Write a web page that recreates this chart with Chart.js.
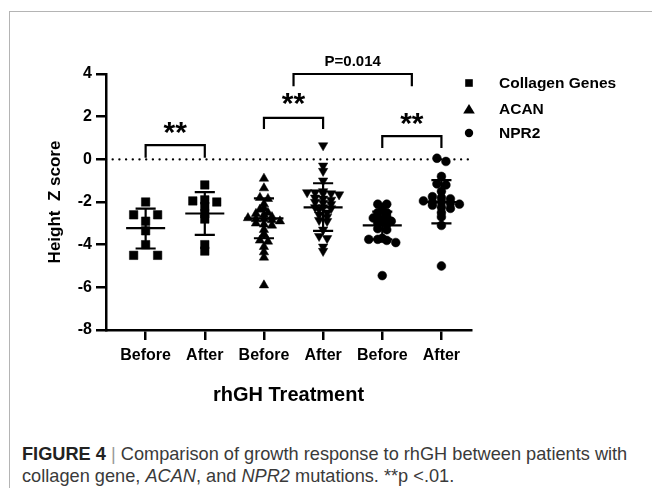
<!DOCTYPE html>
<html>
<head>
<meta charset="utf-8">
<script src="https://cdn.jsdelivr.net/npm/chart.js@4/dist/chart.umd.min.js"></script>
<style>
  body { margin: 0; background: #fff; width: 652px; height: 488px; overflow: hidden; position: relative; }
  #frameTop { position: absolute; left: 9px; top: 11px; width: 643px; height: 0; border-top: 1.5px solid #b4b4b4; }
  #frameLeft { position: absolute; left: 9px; top: 11px; width: 0; height: 477px; border-left: 1.5px solid #b4b4b4; }
  #wrap { position: absolute; left: 0; top: 0; width: 652px; height: 430px; }
  .caption { position: absolute; left: 22px; top: 443px; font-family: "Liberation Sans", Arial, sans-serif; font-size: 18.2px; line-height: 22px; color: #3a3a3a; white-space: nowrap; }
  .caption b { color: #222; }
  .caption .bar { color: #999; }
</style>
</head>
<body>
<div id="frameTop"></div>
<div id="frameLeft"></div>
<div id="wrap"><canvas id="zChart"></canvas></div>
<div class="caption"><b>FIGURE 4</b> <span class="bar">|</span> Comparison of growth response to rhGH between patients with<br>collagen gene, <i>ACAN</i>, and <i>NPR2</i> mutations. **p &lt;.01.</div>
<script>
// --- data ---
const xLabels = ['Before', 'After', 'Before', 'After', 'Before', 'After'];
const legendLabels = ['Collagen Genes', 'ACAN', 'NPR2'];

const collagenBefore = [-2.0, -2.6, -2.6, -2.9, -3.35, -4.0, -4.5, -4.5];
const collagenAfter = [-1.2, -1.9, -1.95, -2.0, -2.2, -2.55, -2.8, -4.0, -4.3];
const acanBefore = [-0.9, -1.35, -1.8, -1.85, -2.1, -2.3, -2.35, -2.5, -2.55, -2.6, -2.7, -2.75, -2.8, -2.8,
  -2.85, -2.9, -3.0, -3.05, -3.1, -3.3, -3.5, -3.55, -3.8, -3.85, -4.1, -4.35, -4.6, -5.9];
const acanAfter = [0.65, -0.3, -0.55, -1.0, -1.5, -1.55, -1.55, -1.6, -1.6, -1.65, -1.8, -1.85, -1.9, -2.0, -2.05,
  -2.1, -2.25, -2.25, -2.3, -2.35, -2.5, -2.6, -2.7, -2.85, -2.9, -3.3, -3.6, -3.7, -4.1, -4.3];
const npr2Before = [-2.1, -2.1, -2.25, -2.5, -2.5, -2.7, -2.7, -2.75, -2.85, -2.9, -3.0, -3.05, -3.25, -3.3,
  -3.7, -3.75, -3.75, -3.8, -3.9, -5.45];
const npr2After = [0.05, -0.1, -0.8, -1.15, -1.2, -1.5, -1.75, -1.8, -1.85, -1.95, -2.0, -2.0, -2.05, -2.1,
  -2.15, -2.25, -2.3, -2.5, -2.7, -3.1, -5.0];

// mean and SD whiskers as drawn
const groupMeans = [-3.22, -2.54, -2.77, -2.25, -3.1, -2.0];
const groupSdHigh = [-2.31, -1.54, -1.83, -1.12, -2.45, -0.97];
const groupSdLow = [-4.18, -3.54, -3.7, -3.35, -3.75, -3.0];

// significance brackets
const bracketFrom = [1, 3, 5, 3.5];
const bracketTo = [2, 4, 6, 5.5];
const bracketTop = [0.67, 1.94, 1.09, 4.0];
const bracketLeg = [0.07, 1.42, 0.53, 3.42];
const bracketText = ['**', '**', '**', 'P=0.014'];
const bracketTextY = [1.48, 2.82, 1.9, 4.62];

// --- layout helpers ---
const xMin = 0.33, xMax = 6.5;
const PX_PER_X = 59.2;   // approx pixels per category on the x scale
const MEAN_HALF = 0.33, CAP_HALF = 0.17;

// spread points of similar value sideways, like a column scatter
function swarm(values, center, stepPx, bin) {
  const bins = {};
  values.forEach(v => {
    const k = Math.round(v / bin);
    (bins[k] = bins[k] || []).push(v);
  });
  const pts = [];
  Object.values(bins).forEach(list => {
    list.forEach((v, i) => {
      pts.push({ x: center + (i - (list.length - 1) / 2) * stepPx / PX_PER_X, y: v });
    });
  });
  return pts;
}

const errorPts = [];
groupMeans.forEach((m, i) => {
  const c = i + 1;
  errorPts.push({ x: c - MEAN_HALF, y: m }, { x: c + MEAN_HALF, y: m }, { x: c, y: null });
  errorPts.push({ x: c - CAP_HALF, y: groupSdHigh[i] }, { x: c + CAP_HALF, y: groupSdHigh[i] }, { x: c, y: null });
  errorPts.push({ x: c - CAP_HALF, y: groupSdLow[i] }, { x: c + CAP_HALF, y: groupSdLow[i] }, { x: c, y: null });
  errorPts.push({ x: c, y: groupSdHigh[i] }, { x: c, y: groupSdLow[i] }, { x: c, y: null });
});

const bracketPts = [];
bracketFrom.forEach((f, i) => {
  bracketPts.push({ x: f, y: bracketLeg[i] }, { x: f, y: bracketTop[i] },
    { x: bracketTo[i], y: bracketTop[i] }, { x: bracketTo[i], y: bracketLeg[i] }, { x: f, y: null });
});

const FONT = '"Liberation Sans", Arial, Helvetica, sans-serif';
Chart.defaults.font.family = FONT;
Chart.defaults.color = '#000';

function pointSet(values, center, style, radius, rotation, step) {
  return {
    type: 'scatter',
    data: swarm(values, center, step, 0.2),
    pointStyle: style,
    pointRadius: radius,
    pointRotation: rotation,
    backgroundColor: '#000',
    borderColor: '#000',
    borderWidth: 0.5
  };
}

// annotations: bracket labels and legend
const annotate = {
  id: 'annotate',
  afterDatasetsDraw(chart) {
    const { ctx, scales: { x, y } } = chart;
    ctx.save();
    ctx.fillStyle = '#000';
    ctx.textAlign = 'center';
    ctx.textBaseline = 'alphabetic';
    bracketText.forEach((t, i) => {
      ctx.font = t === '**' ? 'bold 30px ' + FONT : 'bold 15px ' + FONT;
      const m = ctx.measureText(t);
      const px = x.getPixelForValue((bracketFrom[i] + bracketTo[i]) / 2);
      const py = y.getPixelForValue(bracketTextY[i]);
      ctx.fillText(t, px, py + (m.actualBoundingBoxAscent - m.actualBoundingBoxDescent) / 2);
    });

    // legend
    const lx = 469, ly = [83, 109, 133];
    ctx.textAlign = 'left';
    ctx.textBaseline = 'middle';
    ctx.font = 'bold 15.5px ' + FONT;
    legendLabels.forEach((lab, i) => {
      const cy = ly[i];
      ctx.beginPath();
      if (i === 0) ctx.rect(lx - 3.8, cy - 3.8, 7.6, 7.6);
      if (i === 1) { ctx.moveTo(lx, cy - 5); ctx.lineTo(lx + 5.8, cy + 4.5); ctx.lineTo(lx - 5.8, cy + 4.5); ctx.closePath(); }
      if (i === 2) ctx.arc(lx, cy, 4.2, 0, Math.PI * 2);
      ctx.fill();
      ctx.fillText(lab, 499, cy + 1);
    });
    ctx.restore();
  }
};

new Chart(document.getElementById('zChart'), {
  type: 'scatter',
  data: {
    datasets: [
      pointSet(collagenBefore, 1, 'rect', 6, 0, 24),
      pointSet(collagenAfter, 2, 'rect', 6, 0, 24),
      pointSet(acanBefore, 3, 'triangle', 5.4, 0, 8),
      pointSet(acanAfter, 4, 'triangle', 5.4, 180, 8),
      pointSet(npr2Before, 5, 'circle', 4.4, 0, 9),
      pointSet(npr2After, 6, 'circle', 4.4, 0, 9),
      {
        type: 'line',
        data: errorPts,
        borderColor: '#000',
        borderWidth: 2.2,
        pointRadius: 0,
        spanGaps: false,
        fill: false
      },
      {
        type: 'line',
        data: bracketPts,
        borderColor: '#000',
        borderWidth: 2.2,
        pointRadius: 0,
        spanGaps: false,
        fill: false,
        clip: false
      },
      {
        type: 'line',
        data: [{ x: xMin, y: 0 }, { x: xMax, y: 0 }],
        borderColor: '#000',
        borderWidth: 2.4,
        borderDash: [0, 6.7],
        borderCapStyle: 'round',
        pointRadius: 0,
        fill: false
      }
    ]
  },
  options: {
    responsive: true,
    maintainAspectRatio: false,
    animation: false,
    layout: { padding: { left: 40, top: 74, right: 181, bottom: 20 } },
    plugins: {
      legend: { display: false },
      tooltip: { enabled: false }
    },
    scales: {
      x: {
        type: 'linear',
        min: xMin,
        max: xMax,
        afterFit: s => { s.height = 80; },
        afterBuildTicks: s => { s.ticks = xLabels.map((_, i) => ({ value: i + 1 })); },
        grid: { drawOnChartArea: false, drawTicks: true, tickLength: 10, color: '#000', lineWidth: 2.5 },
        border: { color: '#000', width: 2.5 },
        ticks: {
          autoSkip: false,
          maxRotation: 0,
          padding: 6,
          font: { size: 16, weight: 'bold' },
          callback: v => xLabels[Math.round(v) - 1]
        },
        title: {
          display: true,
          text: 'rhGH Treatment',
          font: { size: 20, weight: 'bold' },
          padding: { top: 0, bottom: 3 }
        }
      },
      y: {
        min: -8,
        max: 4,
        afterFit: s => { s.width = 66; },
        grid: { drawOnChartArea: false, drawTicks: true, tickLength: 10, color: '#000', lineWidth: 2.5 },
        border: { color: '#000', width: 2.5 },
        ticks: {
          stepSize: 2,
          padding: 4,
          font: { size: 16, weight: 'bold' }
        },
        title: {
          display: true,
          text: 'Height  Z score',
          font: { size: 17, weight: 'bold' },
          padding: { top: 5, bottom: 0 }
        }
      }
    }
  },
  plugins: [annotate]
});
</script>
</body>
</html>
